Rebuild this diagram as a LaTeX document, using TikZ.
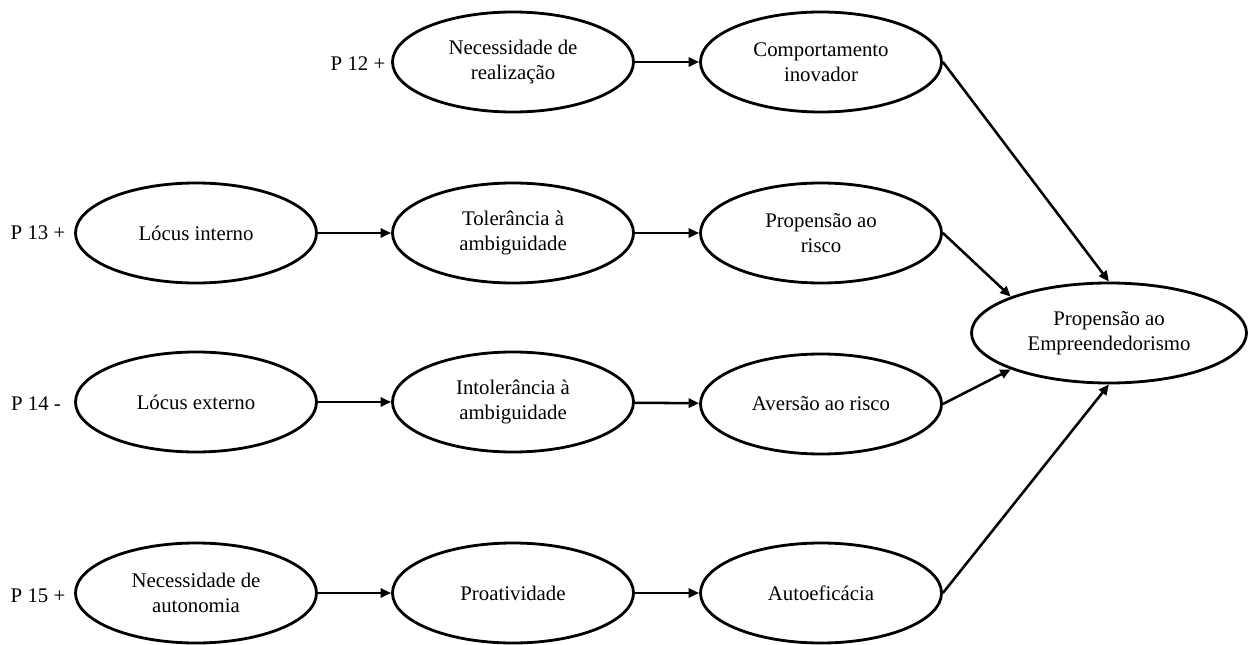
\documentclass[tikz,border=0pt]{standalone}
\usepackage{fontspec}
\setmainfont{Liberation Serif}
\usepackage{tikz}
\usetikzlibrary{shapes, arrows.meta, positioning}
\tikzset{
  construct/.style={draw, ellipse, line width=2pt, minimum width=6.025cm, minimum height=2.5cm, inner sep=0pt, align=center, font=\fontsize{14.8}{17.7}\selectfont},
  outcome/.style={construct, minimum width=6.875cm},
  link/.style={line width=1.8pt, -{Triangle[length=7.5pt, width=6.5pt]}},
  hyplabel/.style={font=\fontsize{14.8}{17.7}\selectfont}
}

\begin{document}
\begin{tikzpicture}
\useasboundingbox (0,0) rectangle (31.325,16.1);

\node[hyplabel] (p12) at (8.95,14.52) {P 12 +};
\node[hyplabel] (p13) at (0.95,10.27) {P 13 +};
\node[hyplabel] (p14) at (0.9,6.0) {P 14 -};
\node[hyplabel] (p15) at (0.95,1.2) {P 15 +};

\node[construct] (necreal) at (12.825,14.55) {Necessidade de\\realização};
\node[construct] (compinov) at (20.525,14.55) {Comportamento\\inovador};

\node[construct] (locint) at (4.9,10.275) {Lócus interno};
\node[construct] (tolamb) at (12.825,10.275) {Tolerância à\\ambiguidade};
\node[construct] (propris) at (20.525,10.275) {Propensão ao\\risco};

\node[outcome] (propemp) at (27.725,7.775) {Propensão ao\\Empreendedorismo};

\node[construct] (locext) at (4.9,6.05) {Lócus externo};
\node[construct] (intamb) at (12.825,6.05) {Intolerância à\\ambiguidade};
\node[construct] (aversris) at (20.525,6.0) {Aversão ao risco};

\node[construct] (necaut) at (4.9,1.275) {Necessidade de\\autonomia};
\node[construct] (proativ) at (12.825,1.275) {Proatividade};
\node[construct] (autoef) at (20.525,1.275) {Autoeficácia};

\draw[link] (necreal) -- (compinov);
\draw[link] (locint) -- (tolamb);
\draw[link] (tolamb) -- (propris);
\draw[link] (locext) -- (intamb);
\draw[link] (intamb) -- (aversris);
\draw[link] (necaut) -- (proativ);
\draw[link] (proativ) -- (autoef);

\draw[link] (compinov.east) -- (propemp.north);
\draw[link] (propris.east) -- (propemp.north west);
\draw[link] (aversris.east) -- (propemp.south west);
\draw[link] (autoef.east) -- (propemp.south);

\end{tikzpicture}
\end{document}
